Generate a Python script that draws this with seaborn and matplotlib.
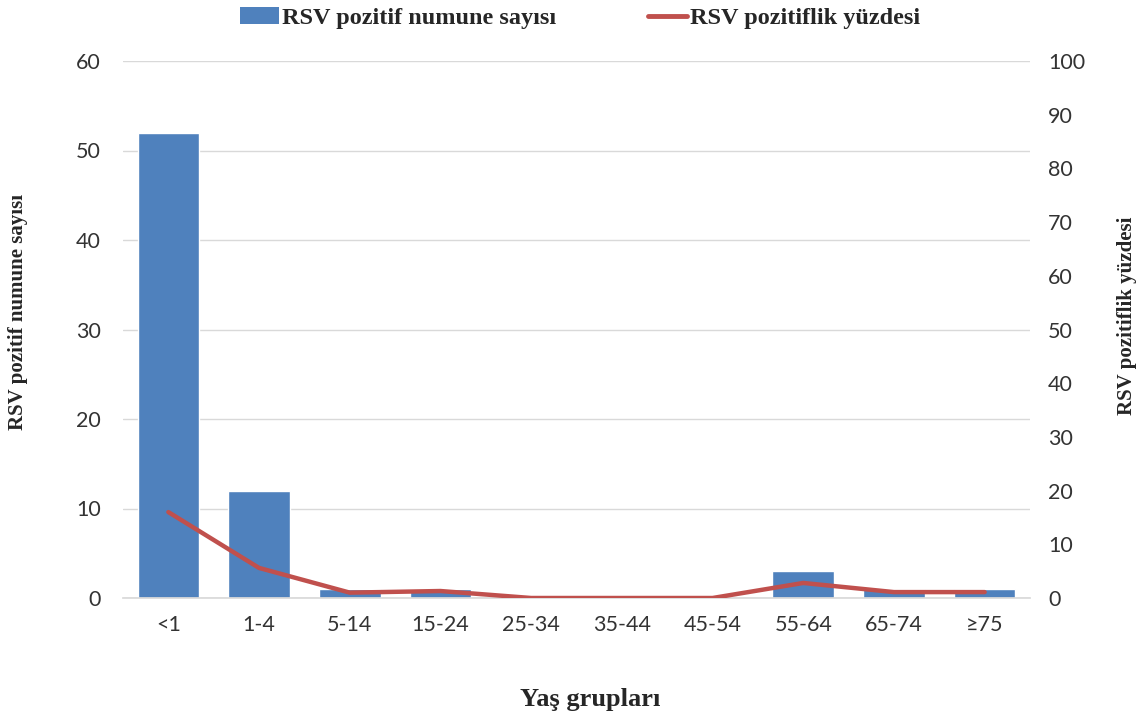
import numpy as np
import matplotlib
matplotlib.use("Agg")
import matplotlib.pyplot as plt
import seaborn as sns
from matplotlib.patches import Patch
from matplotlib.lines import Line2D

age_groups = ["<1", "1-4", "5-14", "15-24", "25-34", "35-44", "45-54", "55-64", "65-74", "≥75"]
positive_counts = [52, 12, 1, 1, 0, 0, 0, 3, 1, 1]
positive_percent = [16.0, 5.6, 1.0, 1.3, 0, 0, 0, 2.8, 1.1, 1.1]

bar_color = "#4F81BD"
line_color = "#C0504D"
tick_color = "#333333"
serif = ["Liberation Serif", "DejaVu Serif"]
sans = ["Lato", "DejaVu Sans"]

sns.set_theme(style="white")
plt.rcParams["font.family"] = serif

W, H = 1141, 719
fig = plt.figure(figsize=(W / 100, H / 100), dpi=100)
left, right, top, bottom = 123, 1030, 61, 598
ax = fig.add_axes([left / W, 1 - bottom / H, (right - left) / W, (bottom - top) / H])

sns.barplot(x=age_groups, y=positive_counts, color=bar_color, width=0.68,
            saturation=1, ax=ax, zorder=2)
ax.set_ylim(0, 60)
ax.set_yticks(range(0, 61, 10))
ax.set_xlim(-0.5, len(age_groups) - 0.5)
ax.yaxis.grid(True, color="#D9D9D9", linewidth=1, zorder=0)
ax.set_axisbelow(True)
for side in ["top", "left", "right"]:
    ax.spines[side].set_visible(False)
ax.spines["bottom"].set_color("#D9D9D9")
ax.tick_params(axis="both", length=0, labelsize=15.5, colors=tick_color)
ax.tick_params(axis="x", pad=12)
ax.tick_params(axis="y", pad=16)
for lab in ax.get_xticklabels() + ax.get_yticklabels():
    lab.set_family(sans)

ax.set_xlabel("Yaş grupları", fontsize=19, fontweight="bold")
ax.xaxis.set_label_coords((590 - left) / (right - left), (bottom - 688) / (bottom - top))
ax.set_ylabel("RSV pozitif numune sayısı", fontsize=15, fontweight="bold")
ax.yaxis.set_label_coords((28 - left) / (right - left), (bottom - 312) / (bottom - top))

ax2 = ax.twinx()
sns.lineplot(x=np.arange(len(age_groups)), y=positive_percent, color=line_color,
             linewidth=3.2, ax=ax2, zorder=3)
ax2.set_ylim(0, 100)
ax2.set_yticks(range(0, 101, 10))
for side in ["top", "left", "right", "bottom"]:
    ax2.spines[side].set_visible(False)
ax2.tick_params(axis="y", length=0, labelsize=15.5, colors=tick_color, pad=13)
for lab in ax2.get_yticklabels():
    lab.set_family(sans)
ax2.set_ylabel("RSV pozitiflik yüzdesi", fontsize=15, fontweight="bold")
ax2.yaxis.set_label_coords((1117 - left) / (right - left), (bottom - 316) / (bottom - top))

handles = [Patch(facecolor=bar_color, edgecolor="none"),
           Line2D([0], [0], color=line_color, linewidth=3.5)]
fig.legend(handles, ["RSV pozitif numune sayısı", "RSV pozitiflik yüzdesi"],
           loc="center", bbox_to_anchor=(580 / W, 1 - 18 / H), ncol=2, frameon=False,
           prop={"family": serif, "weight": "bold", "size": 17.5},
           handlelength=1.6, handletextpad=0.1, columnspacing=3.8,
           borderpad=0, borderaxespad=0)

fig.savefig("out.png", dpi=100)
